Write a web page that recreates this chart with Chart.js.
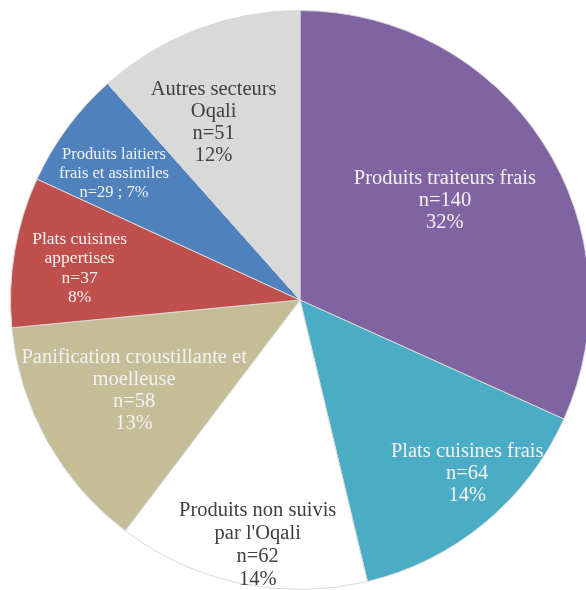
<!DOCTYPE html>
<html>
<head>
<meta charset="utf-8">
<script src="https://cdn.jsdelivr.net/npm/chart.js@4.4.1/dist/chart.umd.min.js"></script>
<style>
  html, body { margin: 0; padding: 0; background: #fff; overflow: hidden; }
  #wrap { position: absolute; left: 0; top: 0; width: 600px; height: 600px; }
</style>
</head>
<body>
<div id="wrap"><canvas id="pie" width="600" height="600"></canvas></div>
<script>
// Sector names (one entry per line of the label), counts and shown percentages
const categories = [
    ["Produits traiteurs frais"],
    ["Plats cuisines frais"],
    ["Produits non suivis", "par l'Oqali"],
    ["Panification croustillante et", "moelleuse"],
    ["Plats cuisines", "appertises"],
    ["Produits laitiers", "frais et assimiles"],
    ["Autres secteurs", "Oqali"]
];
const counts = [140, 64, 62, 58, 37, 29, 51];
const percents = [32, 14, 14, 13, 8, 7, 12];

const colors = ['#8064A2', '#4BACC6', '#FFFFFF', '#C4BD97', '#C0504D', '#4F81BD', '#D9D9D9'];
const textColors = ['#F2F2F2', '#F2F2F2', '#404040', '#F2F2F2', '#F2F2F2', '#F2F2F2', '#404040'];

// label placement: fraction of radius along the slice middle, small angle tweak (deg)
const labelRadius = [0.61, 0.83, 0.855, 0.65, 0.77, 0.78, 0.685];
const labelTweak = [-2, -4.5, -2, 1, -1, -2, -5];
const labelFont = [20.5, 20.5, 20.5, 20.5, 17.5, 16.5, 20.5];
const labelLineH = [22, 22, 23, 22, 19.5, 19, 22];

function labelLines(i) {
    const lines = categories[i].slice();
    if (i === 5) {
        lines.push('n=' + counts[i] + ' ; ' + percents[i] + '%');
    } else {
        lines.push('n=' + counts[i]);
        lines.push(percents[i] + '%');
    }
    return lines;
}

// Draw the text blocks inside the slices
const sliceLabels = {
    id: 'sliceLabels',
    afterDatasetsDraw(chart) {
        const ctx = chart.ctx;
        const arcs = chart.getDatasetMeta(0).data;
        arcs.forEach((arc, i) => {
            const mid = (arc.startAngle + arc.endAngle) / 2 + labelTweak[i] * Math.PI / 180;
            const r = arc.outerRadius * labelRadius[i];
            const x = arc.x + Math.cos(mid) * r;
            const y = arc.y + Math.sin(mid) * r + 1.5;
            const lines = labelLines(i);
            const lh = labelLineH[i];
            ctx.save();
            ctx.font = labelFont[i] + 'px "Liberation Serif", serif';
            ctx.fillStyle = textColors[i];
            ctx.textAlign = 'center';
            ctx.textBaseline = 'middle';
            const top = y - (lines.length - 1) * lh / 2;
            lines.forEach((line, k) => ctx.fillText(line, x, top + k * lh));
            ctx.restore();
        });
    }
};

new Chart(document.getElementById('pie').getContext('2d'), {
    type: 'pie',
    data: {
        labels: categories.map(c => c.join(' ')),
        datasets: [{
            data: counts,
            backgroundColor: colors,
            borderColor: '#d9d9d9',
            borderWidth: 1
        }]
    },
    options: {
        responsive: false,
        animation: false,
        layout: { padding: 10 },
        plugins: {
            legend: { display: false },
            tooltip: { enabled: false }
        }
    },
    plugins: [sliceLabels]
});
</script>
</body>
</html>
